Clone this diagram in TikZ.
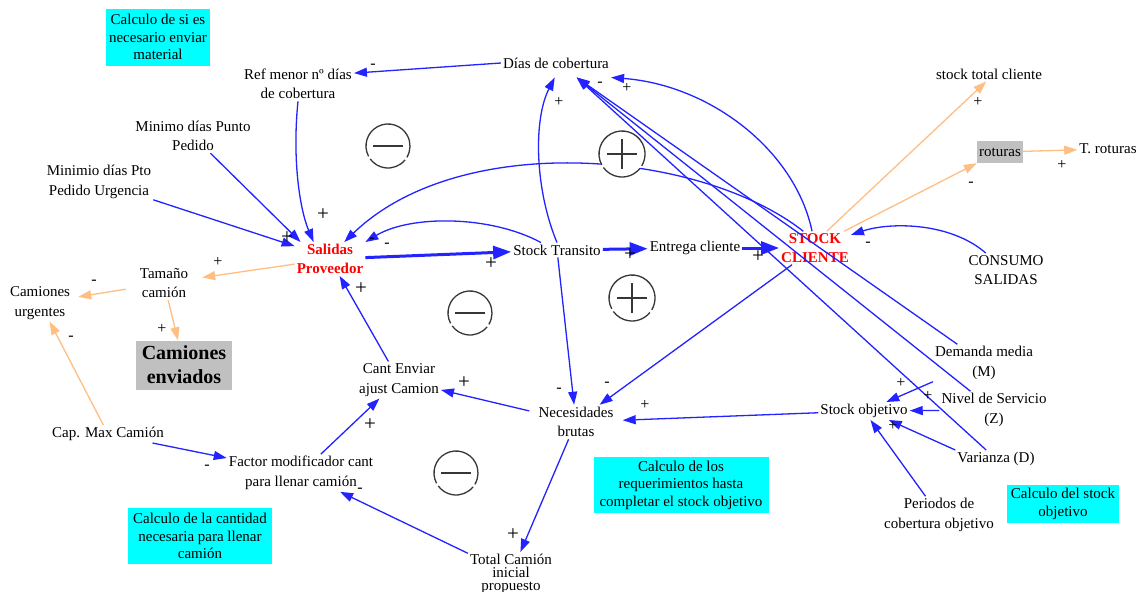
\documentclass[tikz,border=0pt]{standalone}
\usepackage{fontspec}
\setmainfont{Liberation Serif}
\usetikzlibrary{arrows.meta}
\definecolor{linkblue}{RGB}{35,35,255}
\definecolor{peach}{RGB}{255,190,130}
\definecolor{boxgray}{RGB}{192,192,192}
\definecolor{notecyan}{RGB}{0,255,255}
\definecolor{loopgray}{RGB}{55,55,55}
\tikzset{
  vtext/.style={font=\fontsize{15}{19.5}\selectfont, align=center, inner sep=2pt},
  vred/.style={vtext, text=red, font=\bfseries\fontsize{15}{19}\selectfont},
  note/.style={vtext, fill=notecyan, font=\fontsize{15}{17.5}\selectfont, inner sep=1pt},
  grayb/.style={vtext, fill=boxgray},
  conn/.style={draw=linkblue, line width=1.3pt, -{Triangle[length=13pt,width=9pt]}},
  flow/.style={draw=linkblue, line width=3pt, -{Triangle[length=18pt,width=13pt]}},
  peachl/.style={draw=peach, line width=1.3pt, -{Triangle[length=13pt,width=9pt]}},
  sgn/.style={font=\fontsize{21}{21}\selectfont, inner sep=0pt},
  sgnsmall/.style={font=\fontsize{16}{16}\selectfont, inner sep=0pt},
  loopring/.style={draw=loopgray, line width=1.3pt},
  pics/loopneg/.style={code={
    \fill[white] (0,0) circle (22);
    \draw[loopring] (39:22) arc[start angle=39, end angle=144, radius=22];
    \draw[loopring] (152:22) arc[start angle=152, end angle=391, radius=22];
    \draw[loopgray, line width=2pt] (-15,0) -- (15,0);
  }},
  pics/looppos/.style={code={
    \fill[white] (0,0) circle (23);
    \draw[loopring] (39:23) arc[start angle=39, end angle=144, radius=23];
    \draw[loopring] (152:23) arc[start angle=152, end angle=391, radius=23];
    \draw[loopgray, line width=2pt] (-15,0) -- (15,0) (0,-15) -- (0,15);
  }},
}
\begin{document}
\begin{tikzpicture}[x=1pt, y=-1pt]
\fill[white] (0,0) rectangle (1144,592);
\useasboundingbox (0,0) rectangle (1144,592);

% note boxes
\node[note, minimum width=104, minimum height=57] (n1) at (158,37) {Calculo de si es\\necesario enviar\\material};
\node[note, minimum width=112, minimum height=38] (n2) at (1063,504) {Calculo del stock\\objetivo};
\node[note, minimum width=175, minimum height=56] (n3) at (681,485) {Calculo de los\\requerimientos hasta\\completar el stock objetivo};
\node[note, minimum width=144, minimum height=56] (n4) at (200,536) {Calculo de la cantidad\\necesaria para llenar\\camión};

% variables
\node[vtext] (ref) at (298,84) {Ref menor nº días\\de cobertura};
\node[vtext, inner ysep=9pt] (dias) at (556,63) {Días de cobertura};
\node[vtext] (minPP) at (193,136) {Minimo días Punto\\Pedido};
\node[vtext] (minPPU) at (99,182) {Minimio días Pto\\Pedido Urgencia};
\node[vred] (sal) at (330,259) {Salidas\\Proveedor};
\node[vtext] (st) at (557,250) {Stock Transito};
\node[vtext] (ent) at (695,248) {Entrega cliente};
\node[vred] (sc) at (815,248) {STOCK\\CLIENTE};
\node[vtext] (stc) at (989,74) {stock total cliente};
\node[grayb, minimum width=46, minimum height=22, inner sep=1pt] (rot) at (1000,152) {roturas};
\node[vtext] (trot) at (1108,149) {T. roturas};
\node[vtext] (cons) at (1006,270) {CONSUMO\\SALIDAS};
\node[vtext, inner xsep=14pt] (tam) at (164,283) {Tamaño\\camión};
\node[vtext, inner xsep=8pt] (cu) at (40,303) {Camiones\\urgentes};
\node[grayb, font=\bfseries\fontsize{20}{24}\selectfont, minimum width=96, minimum height=49, inner sep=1pt] (ce) at (184,365) {Camiones\\enviados};
\node[vtext] (cant) at (399,380) {Cant Enviar\\ajust Camion};
\node[vtext, inner xsep=9pt] (nec) at (576,422) {Necesidades\\brutas};
\node[vtext] (sobj) at (864,411) {Stock objetivo};
\node[vtext] (dem) at (984,363) {Demanda media\\(M)};
\node[vtext] (niv) at (994,410) {Nivel de Servicio\\(Z)};
\node[vtext] (var) at (996,459) {Varianza (D)};
\node[vtext] (per) at (939,515) {Periodos de\\cobertura objetivo};
\node[vtext] (cap) at (108,434) {Cap. Max Camión};
\node[vtext] (fac) at (301,473) {Factor modificador cant\\para llenar camión};
\node[vtext, font=\fontsize{15}{13}\selectfont] (tot) at (511,574) {Total Camión\\inicial\\propuesto};

% causal links
\draw[conn] (dias.west) -- (ref.11);
\draw[conn] (ref.south) .. controls (292,160) and (300,210) .. (sal.134);
\draw[conn] (minPP) -- (sal.150);
\draw[conn] (minPPU) -- (sal.160);
\draw[conn] (sc.125) .. controls (700,150) and (460,130) .. (sal.50);
\draw[conn] (st.155) .. controls (490,215) and (410,215) .. (sal.north east);
\draw[conn] (st.north) .. controls (535,190) and (533,120) .. (dias.265);
\draw[conn] (st) -- (nec);
\draw[conn] (dem) -- (dias.-35);
\draw[conn] (niv) -- (dias.-35);
\draw[conn] (var) -- (dias.-35);
\draw[conn] (sc.100) .. controls (795,150) and (710,85) .. (dias.south east);
\draw[conn] (sc) -- (nec);
\draw[conn] (cons.140) .. controls (950,222) and (890,222) .. (sc.20);
\draw[conn] (cap) -- (fac);
\draw[conn] (fac) -- (cant);
\draw[conn] (cant) -- (sal);
\draw[conn] (nec) -- (cant);
\draw[conn] (nec) -- (tot);
\draw[conn] (tot) -- (fac);
\draw[conn] (sobj) -- (nec);
\draw[conn] (dem.south west) -- (sobj.22);
\draw[conn] (niv) -- (sobj);
\draw[conn] (var.north west) -- (sobj.-20);
\draw[conn] (per) -- (sobj);

% material flow
\draw[flow] (sal) -- (st);
\draw[flow] (st) -- (ent);
\draw[flow] (ent) -- (sc);

% truck links
\draw[peachl] (sc.55) -- (stc.250);
\draw[peachl] (sc.30) -- (rot.south west);
\draw[peachl] (rot) -- (trot);
\draw[peachl] (sal) -- (tam);
\draw[peachl] (tam) -- (cu);
\draw[peachl] (tam) -- (ce);
\draw[peachl] (cap) -- (cu);

% link polarities
\node[sgnsmall] (s1) at (373,66) {-};
\node[sgn] (s2) at (323,215) {+};
\node[sgn] (s3) at (287,238) {+};
\node[sgnsmall] (s4) at (372,240) {-};
\node[sgnsmall] (s5) at (387,245) {-};
\node[sgn] (s6) at (491,264) {+};
\node[sgn] (s7) at (630,255) {+};
\node[sgn] (s8) at (758,257) {+};
\node[sgnsmall] (s9) at (559,102) {+};
\node[sgnsmall] (s10) at (600,84) {-};
\node[sgnsmall] (s11) at (627,88) {+};
\node[sgnsmall] (s12) at (868,244) {-};
\node[sgnsmall] (s13) at (978,102) {+};
\node[sgnsmall] (s14) at (971,184) {-};
\node[sgnsmall] (s15) at (1062,165) {+};
\node[sgnsmall] (s16) at (218,262) {+};
\node[sgnsmall] (s17) at (94,282) {-};
\node[sgnsmall] (s18) at (162,329) {+};
\node[sgnsmall] (s19) at (71,338) {-};
\node[sgnsmall] (s20) at (207,467) {-};
\node[sgn] (s21) at (370,425) {+};
\node[sgn] (s22) at (361,289) {+};
\node[sgn] (s23) at (464,383) {+};
\node[sgn] (s24) at (513,535) {+};
\node[sgnsmall] (s25) at (360,490) {-};
\node[sgnsmall] (s26) at (645,405) {+};
\node[sgnsmall] (s27) at (559,390) {-};
\node[sgnsmall] (s28) at (607,384) {-};
\node[sgnsmall] (s29) at (901,383) {+};
\node[sgnsmall] (s30) at (928,396) {+};
\node[sgnsmall] (s31) at (893,426) {+};

% loop markers
\pic (L1) at (388,146) {loopneg};
\pic (L2) at (622,154) {looppos};
\pic (L3) at (470,313) {loopneg};
\pic (L4) at (632,298) {looppos};
\pic (L5) at (456,473) {loopneg};
\end{tikzpicture}
\end{document}
